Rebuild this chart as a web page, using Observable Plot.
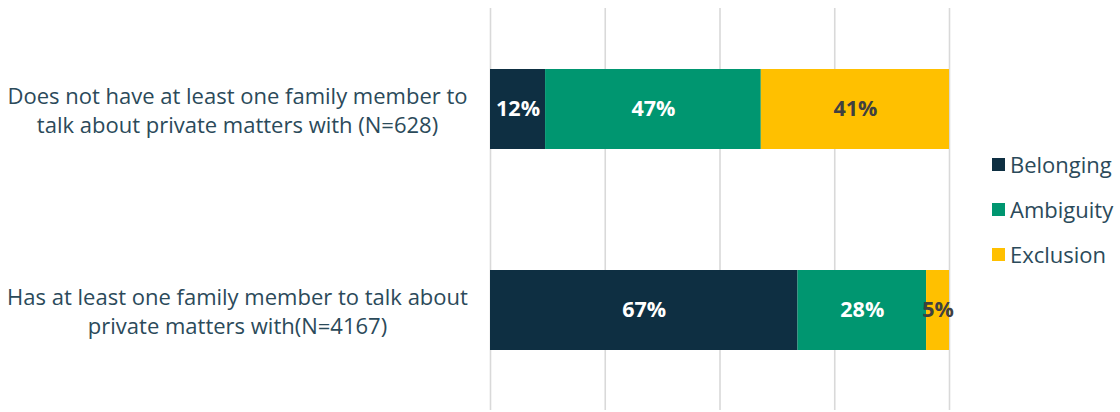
<!DOCTYPE html>
<html>
<head>
<meta charset="utf-8">
<script src="https://cdn.jsdelivr.net/npm/d3@7"></script>
<script src="https://cdn.jsdelivr.net/npm/@observablehq/plot@0.6"></script>
<style>
  html, body { margin: 0; padding: 0; background: #ffffff; }
  #wrap { position: relative; width: 1120px; height: 412px; font-family: "Open Sans", sans-serif; }
  #legend { position: absolute; left: 992px; top: 150px; display: flex; flex-direction: column; gap: 17px; }
  .item { display: flex; align-items: center; height: 28px; font-size: 22px; color: #2B4A5A; white-space: nowrap; }
  .sw { width: 13px; height: 13px; margin-right: 5px; flex: none; }
</style>
</head>
<body>
<div id="wrap"></div>
<script>
const categories = [
  "Does not have at least one family member to\ntalk about private matters with (N=628)",
  "Has at least one family member to talk about\nprivate matters with(N=4167)"
];
const series = ["Belonging", "Ambiguity", "Exclusion"];
const belonging = [12, 67];
const ambiguity = [47, 28];
const exclusion = [41, 5];
const colors = ["#0E2F42", "#009670", "#FFC000"];
const labelColors = ["#ffffff", "#ffffff", "#404040"];
const gridTicks = [0, 25, 50, 75, 100];

const valuesBySeries = [belonging, ambiguity, exclusion];
const data = [];
categories.forEach((c, i) => {
  series.forEach((s, j) => {
    data.push({cat: c, series: s, value: valuesBySeries[j][i], labelColor: labelColors[j]});
  });
});

const textColor = "#2B4A5A";

const chart = Plot.plot({
  width: 1120,
  height: 412,
  marginLeft: 490,
  marginRight: 171,
  marginTop: 8,
  marginBottom: 2,
  style: {fontFamily: "Open Sans, sans-serif", background: "#ffffff", fontSize: "22px"},
  x: {domain: [0, 100], axis: null},
  y: {domain: categories, paddingInner: 0.602, paddingOuter: 0.301},
  color: {domain: series, range: colors},
  marks: [
    Plot.gridX(gridTicks, {stroke: "#d9d9d9", strokeOpacity: 1, strokeWidth: 1.6}),
    Plot.barX(data, Plot.stackX({x: "value", y: "cat", fill: "series", order: series})),
    Plot.text(data, Plot.stackX({
      x: "value", y: "cat", z: "series", order: series,
      text: d => d.value + "%",
      fill: "labelColor",
      fontWeight: "bold",
      fontSize: 21.5
    })),
    Plot.axisY({
      tickSize: 0,
      tickPadding: 0,
      textAnchor: "middle",
      dx: -253,
      fontSize: 22,
      lineHeight: 1.32,
      fill: textColor,
      label: null
    })
  ]
});

const wrap = document.getElementById("wrap");
wrap.appendChild(chart);

const legend = document.createElement("div");
legend.id = "legend";
series.forEach((s, j) => {
  const item = document.createElement("div");
  item.className = "item";
  const sw = document.createElement("span");
  sw.className = "sw";
  sw.style.background = colors[j];
  const t = document.createElement("span");
  t.textContent = s;
  item.appendChild(sw);
  item.appendChild(t);
  legend.appendChild(item);
});
wrap.appendChild(legend);
</script>
</body>
</html>
